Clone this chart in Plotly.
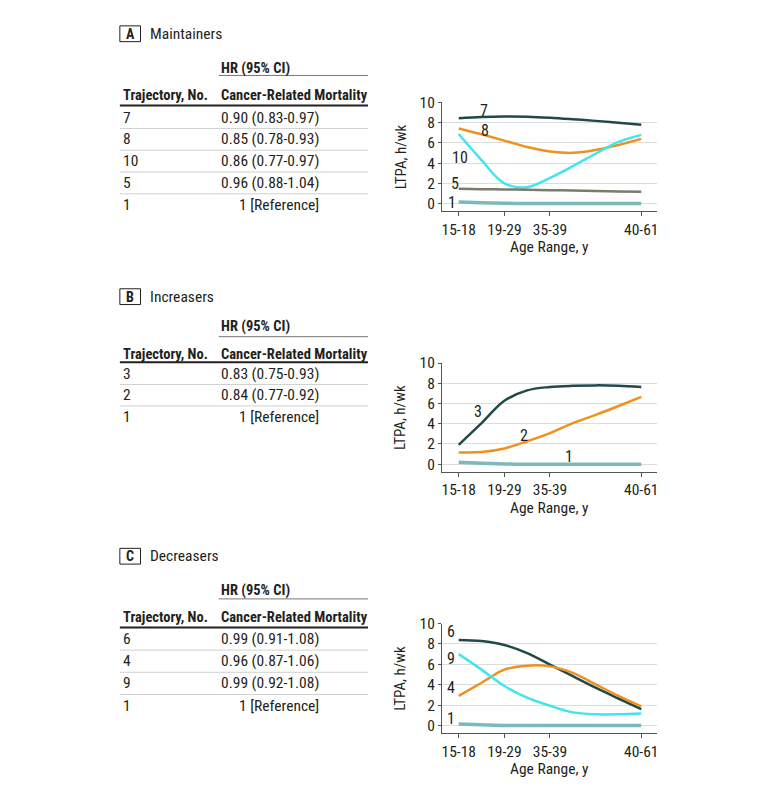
import plotly.graph_objects as go

# page body has an 8px default margin; figure is drawn inside it
OFF = 8
W, H = 764, 773
FONT = "Liberation Sans Narrow, Roboto Condensed, Roboto, Liberation Sans, sans-serif"
TXT = "#231f20"
FS = 15.5      # regular table text
FSB = 14.5     # bold table headers
FT = 15.5      # tick labels

# ---------------- data ----------------
age_ticks = ["15-18", "19-29", "35-39", "40-61"]
age_tick_pos = [0, 1, 2, 4]
age_pos = [0, 0.5, 1, 1.5, 2, 2.5, 3, 3.5, 4]

# Panel A: Maintainers
a_t7 = [8.44, 8.56, 8.62, 8.60, 8.50, 8.35, 8.18, 8.00, 7.80]
a_t8 = [7.43, 6.85, 6.23, 5.60, 5.16, 5.02, 5.30, 5.80, 6.40]
a_t10 = [6.88, 4.30, 2.00, 1.62, 2.55, 3.70, 4.93, 6.10, 6.80]
a_t5 = [1.46, 1.43, 1.40, 1.37, 1.33, 1.29, 1.25, 1.21, 1.17]
a_t1 = [0.16, 0.08, 0.03, 0.01, 0.0, 0.0, 0.0, 0.0, 0.0]

# Panel B: Increasers
b_t3 = [1.92, 4.06, 6.27, 7.30, 7.63, 7.75, 7.79, 7.76, 7.63]
b_t2 = [1.17, 1.20, 1.56, 2.27, 3.08, 4.06, 4.87, 5.75, 6.66]
b_t1 = [0.20, 0.10, 0.03, 0.0, 0.0, 0.0, 0.0, 0.0, 0.0]

# Panel C: Decreasers
c_t6 = [8.39, 8.29, 7.90, 7.10, 5.97, 4.84, 3.71, 2.65, 1.61]
c_t4 = [2.90, 4.19, 5.48, 5.87, 5.80, 5.16, 4.03, 2.90, 1.87]
c_t9 = [7.00, 5.48, 3.87, 2.74, 1.94, 1.29, 1.10, 1.10, 1.19]
c_t1 = [0.16, 0.08, 0.0, 0.0, 0.0, 0.0, 0.0, 0.0, 0.0]

# HR tables
a_traj = ["7", "8", "10", "5", "1"]
a_hr = ["0.90 (0.83-0.97)", "0.85 (0.78-0.93)", "0.86 (0.77-0.97)", "0.96 (0.88-1.04)", "1 [Reference]"]
b_traj = ["3", "2", "1"]
b_hr = ["0.83 (0.75-0.93)", "0.84 (0.77-0.92)", "1 [Reference]"]
c_traj = ["6", "4", "9", "1"]
c_hr = ["0.99 (0.91-1.08)", "0.96 (0.87-1.06)", "0.99 (0.92-1.08)", "1 [Reference]"]

DARK = "#21494a"
ORANGE = "#f0901e"
CYAN = "#3fe6ef"
OLIVE = "#7b7a6c"
TEAL = "#7cbaba"


def px(x):
    return (x - OFF) / W


def py(y):
    return 1 - (y - OFF) / H


fig = go.Figure()

panels = [
    ("", 94.7, 205.0,
     [(a_t7, DARK, 2.5), (a_t8, ORANGE, 2.5), (a_t10, CYAN, 2.5), (a_t5, OLIVE, 2.5), (a_t1, TEAL, 3.5)],
     [("7", 0.56, 9.2), ("8", 0.58, 7.2), ("10", 0.03, 4.6), ("5", -0.09, 2.0), ("1", -0.14, 0.1)]),
    ("2", 359.0, 469.4,
     [(b_t3, DARK, 2.5), (b_t2, ORANGE, 2.5), (b_t1, TEAL, 3.5)],
     [("3", 0.42, 5.2), ("2", 1.42, 2.82), ("1", 2.41, 0.75)]),
    ("3", 623.3, 734.5,
     [(c_t6, DARK, 2.5), (c_t4, ORANGE, 2.5), (c_t9, CYAN, 2.5), (c_t1, TEAL, 3.5)],
     [("6", -0.17, 9.19), ("9", -0.17, 6.55), ("4", -0.17, 3.71), ("1", -0.17, 0.72)]),
]

annotations = []
shapes = []
layout_axes = {}


def note(text, x, y, size=FS, xanchor="left", xref="paper", yref="paper", **kw):
    annotations.append(dict(text=text, x=x, y=y, xref=xref, yref=yref, xanchor=xanchor, yanchor="middle",
                            showarrow=False, font=dict(family=FONT, size=size, color=TXT), **kw))


for suf, top, bot, series, labels in panels:
    xa = "x" + suf
    ya = "y" + suf
    for vals, col, lw in series:
        fig.add_trace(go.Scatter(x=age_pos, y=vals, mode="lines",
                                 line=dict(color=col, width=lw, shape="spline", smoothing=1.0),
                                 xaxis=xa, yaxis=ya, showlegend=False, hoverinfo="skip"))
    for t, lx, ly in labels:
        note(t, lx, ly, size=16, xanchor="center", xref=xa, yref=ya)
    layout_axes["xaxis" + suf] = dict(
        domain=[px(442.5), px(658.3)], range=[-0.368, 4.355], anchor=ya,
        tickmode="array", tickvals=age_tick_pos, ticktext=age_ticks,
        ticks="outside", ticklen=4, tickcolor="#555", showline=True, linecolor="#555",
        linewidth=1, showgrid=False, zeroline=False,
        tickfont=dict(family=FONT, size=FT, color=TXT), fixedrange=True)
    layout_axes["yaxis" + suf] = dict(
        domain=[py(bot), py(top)], range=[-0.75, 10], anchor=xa,
        tickvals=[0, 2, 4, 6, 8, 10], ticks="outside", ticklen=3, tickcolor="#555",
        showline=True, linecolor="#555", linewidth=1, showgrid=True, gridcolor="#dcdcdc",
        gridwidth=1, zeroline=False,
        tickfont=dict(family=FONT, size=FT, color=TXT), fixedrange=True)
    note("LTPA, h/wk", px(401), py((top + bot) / 2), size=15, xanchor="center", textangle=-90)
    note("Age Range, y", px(550), py(bot + 36.7), size=15.5, xanchor="center")

tables = [
    ("A", "Maintainers", 25.0, 60.0, 67.3, 87.3, 97.7, a_traj, a_hr, 110.0, 22.1),
    ("B", "Increasers", 291.7, 321.7, 332.3, 350.7, 358.3, b_traj, b_hr, 370.0, 21.7),
    ("C", "Decreasers", 555.0, 590.0, 598.3, 617.3, 627.3, c_traj, c_hr, 639.0, 22.5),
]
for letter, title, ty, hry, hrline, hdy, hdline, trajs, hrs, r0, rstep in tables:
    shapes.append(dict(type="rect", xref="paper", yref="paper", x0=px(120), x1=px(140.7),
                       y0=py(ty - 8), y1=py(ty + 8), line=dict(color=TXT, width=1)))
    note("<b>" + letter + "</b>", px(130.4), py(ty), size=14, xanchor="center")
    note(title, px(148), py(ty), size=15.5)
    note("<b>HR (95% CI)</b>", px(219), py(hry), size=FSB)
    shapes.append(dict(type="line", xref="paper", yref="paper", x0=px(219), x1=px(368.5),
                       y0=py(hrline), y1=py(hrline), line=dict(color="#777", width=1)))
    note("<b>Trajectory, No.</b>", px(121), py(hdy), size=FSB)
    note("<b>Cancer-Related Mortality</b>", px(219), py(hdy), size=FSB)
    shapes.append(dict(type="line", xref="paper", yref="paper", x0=px(120), x1=px(368.5),
                       y0=py(hdline), y1=py(hdline), line=dict(color=TXT, width=2)))
    n = len(trajs)
    for i, (t, h) in enumerate(zip(trajs, hrs)):
        yy = r0 + i * rstep
        note(t, px(121), py(yy))
        if i < n - 1:
            note(h, px(219), py(yy))
            sy = yy + rstep / 2
            shapes.append(dict(type="line", xref="paper", yref="paper", x0=px(120), x1=px(368.5),
                               y0=py(sy), y1=py(sy), line=dict(color="#d0d0d0", width=1)))
        else:
            note(h, px(321.5), py(yy), xanchor="right")

fig.update_layout(width=W, height=H, margin=dict(l=0, r=0, t=0, b=0),
                  paper_bgcolor="white", plot_bgcolor="white",
                  annotations=annotations, shapes=shapes, **layout_axes)

fig.write_html("out.html")
